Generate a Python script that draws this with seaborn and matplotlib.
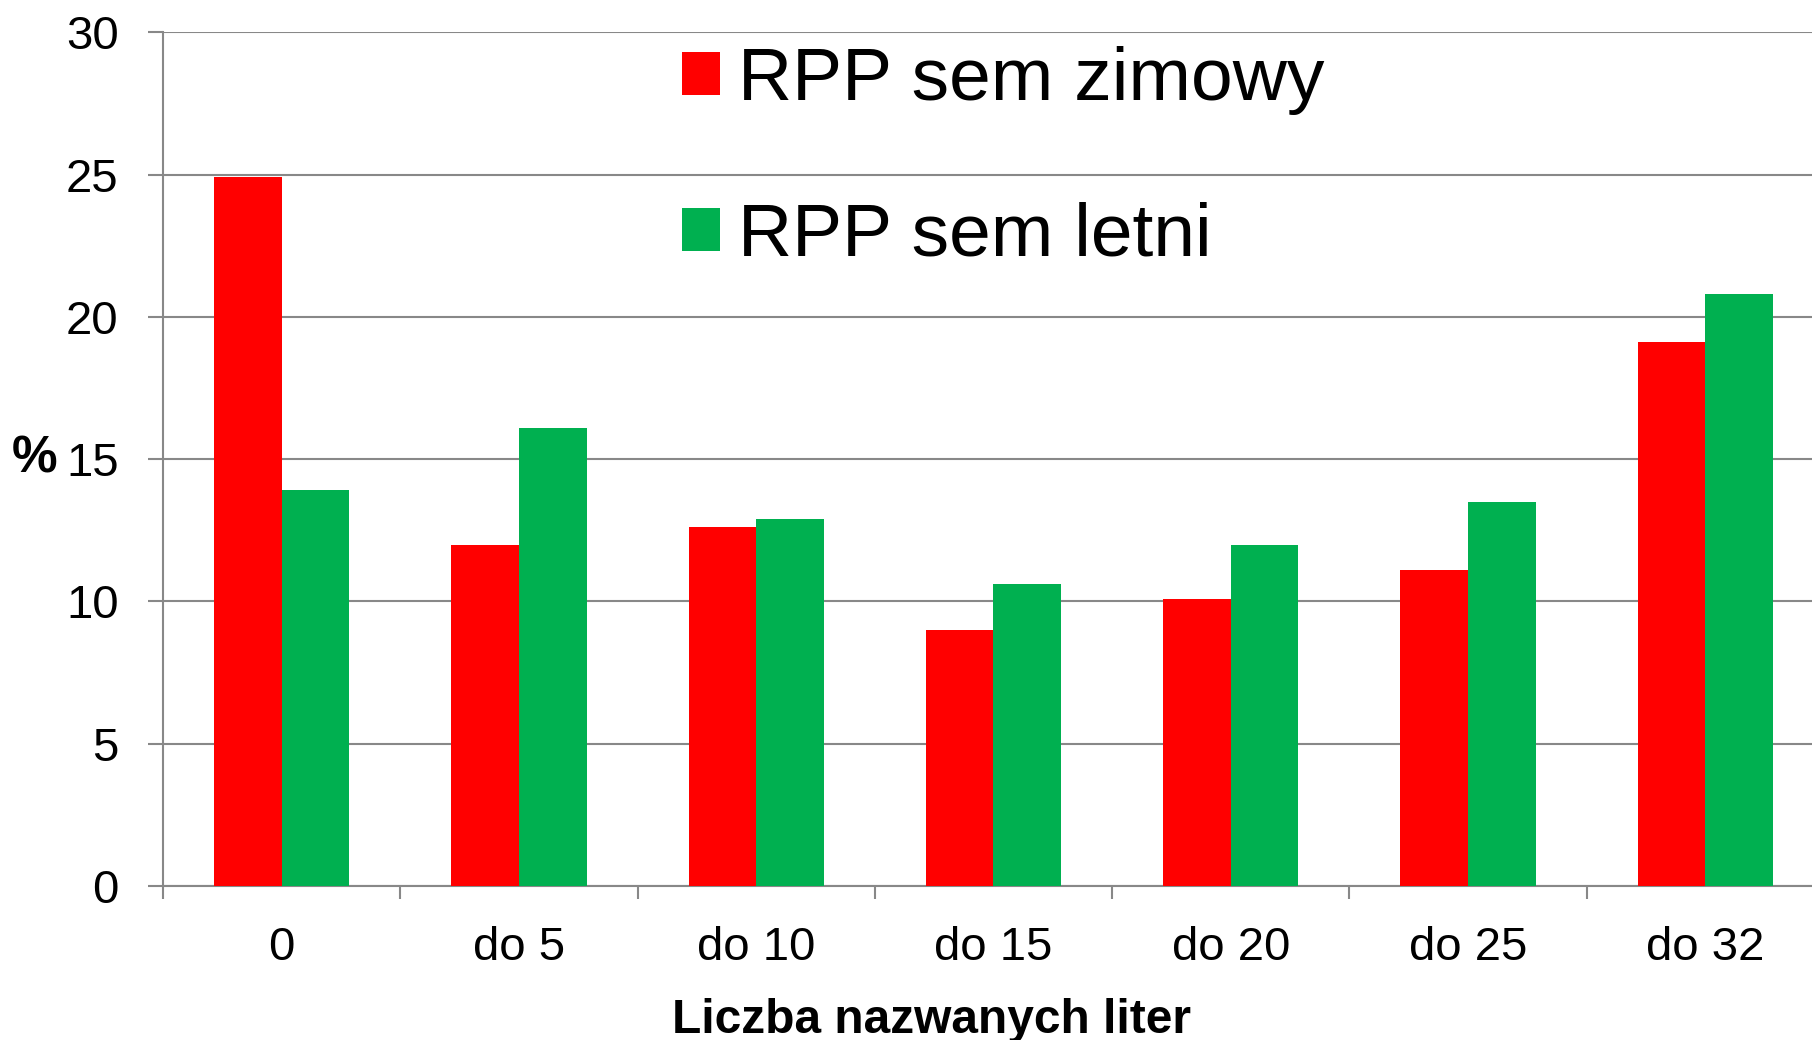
import numpy as np
import pandas as pd
import matplotlib
matplotlib.use("Agg")
import matplotlib.pyplot as plt
import seaborn as sns

# dane (%)
kategorie = ["0", "do 5", "do 10", "do 15", "do 20", "do 25", "do 32"]
sem_zimowy = [24.9, 12.0, 12.6, 9.0, 10.1, 11.1, 19.1]
sem_letni = [13.9, 16.1, 12.9, 10.6, 12.0, 13.5, 20.8]
serie = ["RPP sem zimowy", "RPP sem letni"]
kolory = ["#FF0000", "#00B050"]

df = pd.DataFrame({
    "kategoria": kategorie * 2,
    "wartosc": sem_zimowy + sem_letni,
    "seria": [serie[0]] * len(kategorie) + [serie[1]] * len(kategorie),
})

sns.set_theme(style="white", rc={"text.color": "black",
                                 "axes.labelcolor": "black"})
plt.rcParams["font.family"] = ["Liberation Sans", "DejaVu Sans"]

fig = plt.figure(figsize=(18.12, 10.4), dpi=100)
ax = fig.add_axes([0.09, 0.148, 0.91, 0.821])

sns.barplot(data=df, x="kategoria", y="wartosc", hue="seria",
            palette=kolory, width=0.57, saturation=1, ax=ax,
            edgecolor="none", linewidth=0, zorder=3)

ax.set_ylim(0, 30)
ax.set_xlim(-0.5, 6.45)
ax.set_yticks(np.arange(0, 31, 5))
ax.yaxis.grid(True, color="#888888", linewidth=1.5, zorder=0)
ax.set_axisbelow(True)

for s in ["top", "right"]:
    ax.spines[s].set_visible(False)
for s in ["left", "bottom"]:
    ax.spines[s].set_color("#888888")
    ax.spines[s].set_linewidth(1.5)

# znaczniki osi X na granicach kategorii
ax.set_xticks(np.arange(-0.5, 6.5, 1), minor=True)
ax.tick_params(axis="x", which="minor", bottom=True, length=9, width=1.5,
               color="#888888", direction="out")
ax.tick_params(axis="x", which="major", length=0, pad=29, labelsize=34,
               labelcolor="black")
ax.tick_params(axis="y", left=True, length=11, width=1.5, color="#888888",
               pad=21, labelsize=34, labelcolor="black")

ax.set_xlabel("Liczba nazwanych liter", fontsize=34.5, fontweight="bold",
              labelpad=20)
ax.xaxis.label.set_x(0.466)
ax.set_ylabel("%", fontsize=37, fontweight="bold", rotation=0,
              va="center", ha="right", labelpad=6)

handles, labels = ax.get_legend_handles_labels()
ax.legend(handles, labels, loc="upper left", bbox_to_anchor=(0.292, 1.028),
          frameon=False, fontsize=54, handlelength=0.5, handleheight=0.5,
          handletextpad=0.25, labelspacing=1.16, borderpad=0)

fig.savefig("out.png", dpi=100)
